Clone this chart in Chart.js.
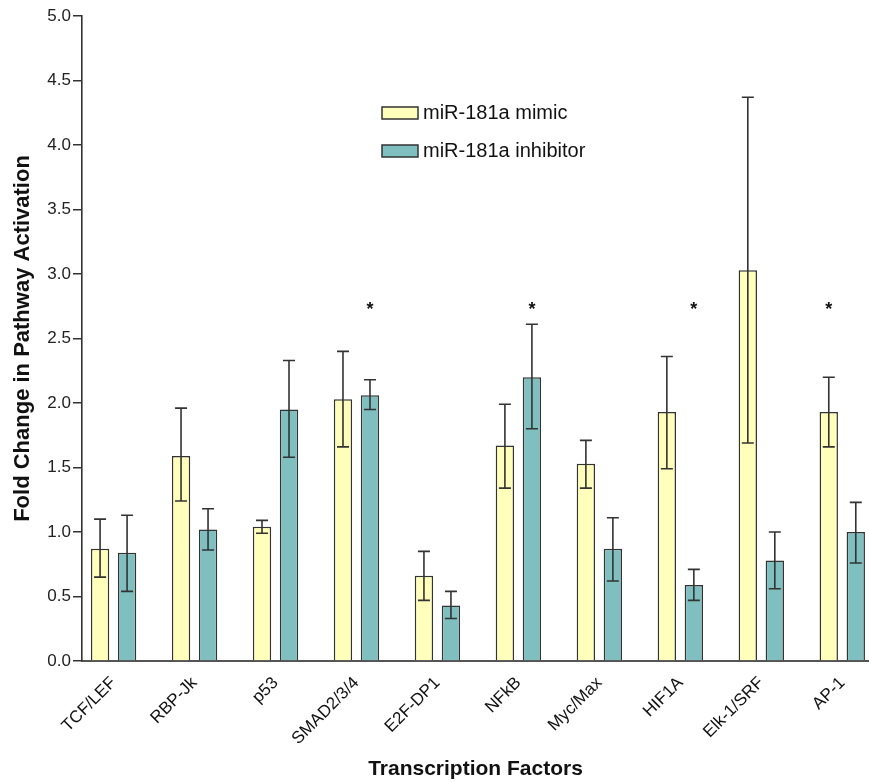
<!DOCTYPE html>
<html>
<head>
<meta charset="utf-8">
<script src="https://cdn.jsdelivr.net/npm/chart.js@4"></script>
<style>
  body { margin: 0; background: #fff; }
</style>
</head>
<body>
<canvas id="chart" width="869" height="782"></canvas>
<script>
const categories = ["TCF/LEF", "RBP-Jk", "p53", "SMAD2/3/4", "E2F-DP1", "NFkB", "Myc/Max", "HIF1A", "Elk-1/SRF", "AP-1"];
const seriesNames = ["miR-181a mimic", "miR-181a inhibitor"];

const mimic = [0.87, 1.59, 1.04, 2.03, 0.66, 1.67, 1.53, 1.93, 3.03, 1.93];
const mimicHigh = [1.10, 1.96, 1.09, 2.40, 0.85, 1.99, 1.71, 2.36, 4.37, 2.20];
const mimicLow = [0.65, 1.24, 0.99, 1.66, 0.47, 1.34, 1.34, 1.49, 1.69, 1.66];

const inhibitor = [0.84, 1.02, 1.95, 2.06, 0.43, 2.20, 0.87, 0.59, 0.78, 1.00];
const inhibitorHigh = [1.13, 1.18, 2.33, 2.18, 0.54, 2.61, 1.11, 0.71, 1.00, 1.23];
const inhibitorLow = [0.54, 0.86, 1.58, 1.95, 0.33, 1.80, 0.62, 0.47, 0.56, 0.76];

const yTicks = [0, 0.5, 1, 1.5, 2, 2.5, 3, 3.5, 4, 4.5, 5];

// significance stars: category + which series it sits above
const starCategories = ["SMAD2/3/4", "NFkB", "HIF1A", "AP-1"];
const starSeries = [1, 1, 1, 0];
const starLevel = 2.75;

const colors = ["#FFFFBB", "#7FBFBF"];
const ink = "#333333";
const font = "'Liberation Sans', Arial, sans-serif";

const errorBars = {
  id: "errorBars",
  afterDatasetsDraw(chart) {
    const ctx = chart.ctx;
    const y = chart.scales.y;
    const ranges = [[mimicHigh, mimicLow], [inhibitorHigh, inhibitorLow]];
    ctx.save();
    ctx.strokeStyle = ink;
    ctx.lineWidth = 1.6;
    chart.data.datasets.forEach((ds, d) => {
      const meta = chart.getDatasetMeta(d);
      meta.data.forEach((bar, i) => {
        const top = y.getPixelForValue(ranges[d][0][i]);
        const bot = y.getPixelForValue(ranges[d][1][i]);
        ctx.beginPath();
        ctx.moveTo(bar.x, top);
        ctx.lineTo(bar.x, bot);
        ctx.moveTo(bar.x - 6, top);
        ctx.lineTo(bar.x + 6, top);
        ctx.moveTo(bar.x - 6, bot);
        ctx.lineTo(bar.x + 6, bot);
        ctx.stroke();
      });
    });

    // stars
    ctx.fillStyle = "#111";
    ctx.font = "bold 18px " + font;
    ctx.textAlign = "center";
    ctx.textBaseline = "middle";
    starCategories.forEach((c, k) => {
      const i = categories.indexOf(c);
      const bar = chart.getDatasetMeta(starSeries[k]).data[i];
      ctx.fillText("*", bar.x, y.getPixelForValue(starLevel) + 4);
    });

    // legend
    ctx.font = "20px " + font;
    ctx.textAlign = "left";
    seriesNames.forEach((name, k) => {
      const ly = 107 + k * 38;
      ctx.fillStyle = colors[k];
      ctx.fillRect(382, ly, 36, 12);
      ctx.lineWidth = 1.5;
      ctx.strokeStyle = ink;
      ctx.strokeRect(382, ly, 36, 12);
      ctx.fillStyle = "#111";
      ctx.fillText(name, 423, ly + 6);
    });
    ctx.restore();
  }
};

new Chart(document.getElementById("chart"), {
  type: "bar",
  data: {
    datasets: [
      {
        label: seriesNames[0],
        data: mimic.map((v, i) => ({ x: i, y: v })),
        backgroundColor: colors[0],
        borderColor: ink,
        borderWidth: 1.5,
        categoryPercentage: 0.667,
        barPercentage: 0.68,
      },
      {
        label: seriesNames[1],
        data: inhibitor.map((v, i) => ({ x: i, y: v })),
        backgroundColor: colors[1],
        borderColor: ink,
        borderWidth: 1.5,
        categoryPercentage: 0.667,
        barPercentage: 0.68,
      },
    ],
  },
  options: {
    responsive: false,
    animation: false,
    layout: { padding: { top: 16, right: 0, left: 0, bottom: 0 } },
    plugins: { legend: { display: false }, tooltip: { enabled: false } },
    scales: {
      x: {
        type: "linear",
        offset: false,
        min: -0.39,
        max: 9.33,
        afterBuildTicks: (scale) => {
          scale.ticks = categories.map((c, i) => ({ value: i }));
        },
        afterFit: (scale) => { scale.height = 121; },
        grid: { display: false },
        border: { display: true, color: "#555", width: 2 },
        ticks: {
          autoSkip: false,
          maxRotation: 45,
          minRotation: 45,
          padding: 4,
          color: "#111",
          font: { family: font, size: 17 },
          callback: (v) => categories[v],
        },
        title: {
          display: true,
          text: "Transcription Factors",
          color: "#111",
          padding: 0,
          font: { family: font, size: 21, weight: "bold" },
        },
      },
      y: {
        min: 0,
        max: 5,
        afterBuildTicks: (scale) => {
          scale.ticks = yTicks.map((v) => ({ value: v }));
        },
        afterFit: (scale) => { scale.width = 82; },
        grid: { drawOnChartArea: false, color: ink, tickLength: 9, lineWidth: 1.5 },
        border: { display: true, color: ink, width: 1.6 },
        ticks: {
          padding: 2,
          color: "#222",
          font: { family: font, size: 17 },
          callback: (v) => v.toFixed(1),
        },
        title: {
          display: true,
          text: "Fold Change in Pathway Activation",
          color: "#111",
          padding: { top: 10, bottom: 0 },
          font: { family: font, size: 22, weight: "bold" },
        },
      },
    },
  },
  plugins: [errorBars],
});
</script>
</body>
</html>
